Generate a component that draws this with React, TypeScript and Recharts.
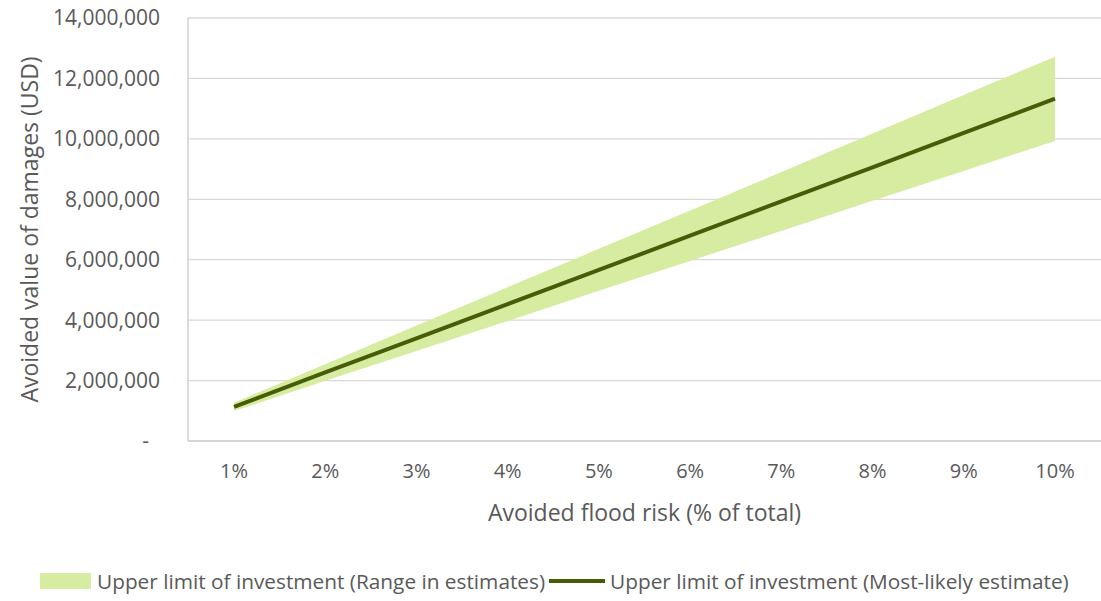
import {
  ComposedChart,
  Area,
  Line,
  XAxis,
  YAxis,
  CartesianGrid,
} from "recharts";

// Avoided flood risk categories
const categories = ["1%", "2%", "3%", "4%", "5%", "6%", "7%", "8%", "9%", "10%"];

// Values in USD
const mostLikely = [
  1130000, 2270000, 3400000, 4530000, 5660000, 6800000, 7930000, 9060000, 10200000, 11330000,
];
const rangeLow = [
  990000, 1990000, 2980000, 3970000, 4970000, 5960000, 6950000, 7950000, 8940000, 9930000,
];
const rangeHigh = [
  1270000, 2540000, 3820000, 5090000, 6360000, 7630000, 8900000, 10180000, 11450000, 12720000,
];

const yTicks = [0, 2000000, 4000000, 6000000, 8000000, 10000000, 12000000, 14000000];

const data = categories.map((c, i) => ({
  name: c,
  range: [rangeLow[i], rangeHigh[i]],
  likely: mostLikely[i],
}));

const FONT = "'Open Sans', sans-serif";
const TEXT = "#595959";
const BAND = "#d6eca0";
const LINE = "#475c07";

// accounting style: zero shown as a dash, padded like Excel does
const formatY = (v: number) => (v === 0 ? "-\u00a0\u00a0" : v.toLocaleString("en-US"));

const App = () => {
  return (
    <div
      style={{
        position: "absolute",
        left: 0,
        top: 0,
        width: 1101,
        height: 601,
        background: "#fff",
        fontFamily: FONT,
      }}
    >
      <ComposedChart
        width={1101}
        height={601}
        data={data}
        margin={{ top: 18, right: 0, left: 0, bottom: 0 }}
      >
        <CartesianGrid vertical={false} stroke="#d9d9d9" strokeWidth={1.3} />
        <XAxis
          dataKey="name"
          height={160}
          padding={{ left: 46, right: 46 }}
          stroke="#d0d0d0"
          strokeWidth={1.5}
          tickLine={false}
          tickSize={0}
          tickMargin={23}
          tick={{ fill: TEXT, fontSize: 20, fontFamily: FONT }}
          label={{
            value: "Avoided flood risk (% of total)",
            position: "insideBottom",
            offset: 80,
            fill: TEXT,
            fontSize: 23,
            fontFamily: FONT,
          }}
        />
        <YAxis
          width={188}
          domain={[0, 14000000]}
          ticks={yTicks}
          tickFormatter={formatY}
          stroke="#d0d0d0"
          strokeWidth={1.5}
          tickLine={false}
          tickSize={0}
          tickMargin={28}
          tick={{ fill: TEXT, fontSize: 21, fontFamily: FONT }}
          label={{
            value: "Avoided value of damages (USD)",
            angle: -90,
            position: "insideLeft",
            offset: 30,
            fill: TEXT,
            fontSize: 23,
            fontFamily: FONT,
            style: { textAnchor: "middle" },
          }}
        />
        <Area
          type="linear"
          dataKey="range"
          fill={BAND}
          fillOpacity={1}
          stroke="none"
          isAnimationActive={false}
          activeDot={false}
        />
        <Line
          type="linear"
          dataKey="likely"
          stroke={LINE}
          strokeWidth={4}
          dot={false}
          activeDot={false}
          isAnimationActive={false}
        />
      </ComposedChart>

      <div
        style={{
          position: "absolute",
          top: 567,
          left: 40,
          display: "flex",
          alignItems: "center",
          fontSize: 20.8,
          color: TEXT,
          whiteSpace: "nowrap",
        }}
      >
        <div style={{ width: 51, height: 16, background: BAND, marginRight: 6 }} />
        <span>Upper limit of investment (Range in estimates)</span>
        <div style={{ width: 56, height: 4, background: LINE, margin: "0 5px 0 4px" }} />
        <span>Upper limit of investment (Most-likely estimate)</span>
      </div>
    </div>
  );
};

export default App;
